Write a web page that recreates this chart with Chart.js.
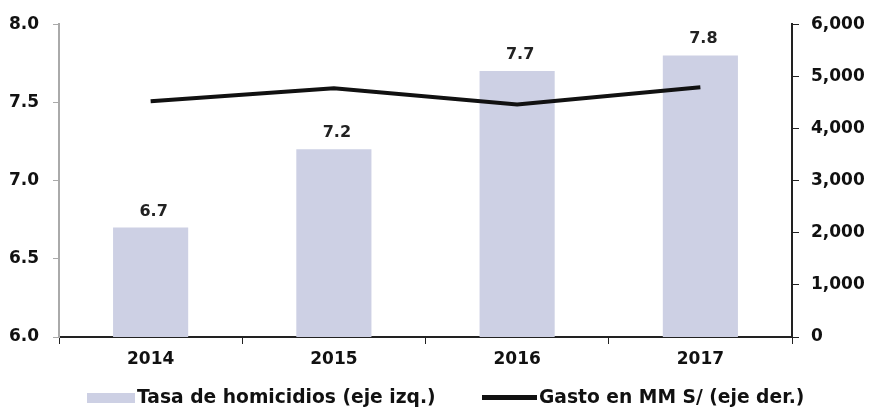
<!DOCTYPE html>
<html>
<head>
<meta charset="utf-8">
<script src="https://cdn.jsdelivr.net/npm/chart.js@4"></script>
<style>
  html, body { margin: 0; padding: 0; background: #fff; }
  #wrap { position: relative; width: 871px; height: 409px; }
  #legend { position: absolute; left: 0; top: 386px; width: 871px; height: 22px;
            font: bold 18.7px 'DejaVu Sans', sans-serif; color: #111; }
  .item { position: absolute; top: 0; white-space: nowrap; line-height: 22px; }
  .sw { display: inline-block; vertical-align: middle; margin-right: 2px; }
</style>
</head>
<body>
<div id="wrap">
  <canvas id="chart" width="871" height="409"></canvas>
  <div id="legend"></div>
</div>
<script>
const years = ["2014", "2015", "2016", "2017"];
const tasaHomicidios = [6.7, 7.2, 7.7, 7.8];
const gastoMM = [4520, 4770, 4460, 4790];
const leftTicks = [6.0, 6.5, 7.0, 7.5, 8.0];
const rightTicks = [0, 1000, 2000, 3000, 4000, 5000, 6000];

const barColor = "#cdd0e4";
const fontFam = "'DejaVu Sans', sans-serif";
const tickFont = { family: fontFam, size: 17, weight: "bold" };

// value labels above each bar
const barLabels = {
  id: "barLabels",
  afterDatasetsDraw(chart) {
    const ctx = chart.ctx;
    const meta = chart.getDatasetMeta(1);
    ctx.save();
    ctx.font = "bold 16px " + fontFam;
    ctx.fillStyle = "#222";
    ctx.textAlign = "center";
    ctx.textBaseline = "alphabetic";
    meta.data.forEach((bar, i) => {
      ctx.fillText(tasaHomicidios[i].toFixed(1), bar.x + 3, bar.y - 12);
    });
    ctx.restore();
  }
};

const chart = new Chart(document.getElementById("chart"), {
  data: {
    labels: years,
    datasets: [
      {
        type: "line",
        label: "Gasto en MM S/ (eje der.)",
        data: gastoMM,
        yAxisID: "y1",
        borderColor: "#111",
        borderWidth: 4,
        pointRadius: 0,
        tension: 0,
        order: 0
      },
      {
        type: "bar",
        label: "Tasa de homicidios (eje izq.)",
        data: tasaHomicidios,
        yAxisID: "y",
        backgroundColor: barColor,
        categoryPercentage: 0.41,
        barPercentage: 1.0,
        order: 1
      }
    ]
  },
  options: {
    responsive: false,
    animation: false,
    layout: { padding: { top: 21, bottom: 42 } },
    plugins: {
      tooltip: { enabled: false },
      legend: { display: false }
    },
    scales: {
      x: {
        afterFit: s => { s.height = 30; },
        grid: { drawOnChartArea: false, color: "#222", tickLength: 7 },
        border: { color: "#222", width: 2 },
        ticks: { color: "#111", font: tickFont, padding: 5 }
      },
      y: {
        position: "left",
        min: 6, max: 8,
        afterBuildTicks: s => { s.ticks = leftTicks.map(v => ({ value: v })); },
        afterFit: s => { s.width = 59; },
        grid: { drawOnChartArea: false, color: "#aaa", tickLength: 6 },
        border: { color: "#aaa", width: 2 },
        ticks: { color: "#111", font: tickFont, padding: 14, callback: v => Number(v).toFixed(1) }
      },
      y1: {
        position: "right",
        min: 0, max: 6000,
        afterBuildTicks: s => { s.ticks = rightTicks.map(v => ({ value: v })); },
        afterFit: s => { s.width = 79; },
        grid: { drawOnChartArea: false, color: "#222", tickLength: 7 },
        border: { color: "#222", width: 2 },
        ticks: { color: "#111", font: tickFont, padding: 12, callback: v => Number(v).toLocaleString("en-US") }
      }
    }
  },
  plugins: [barLabels]
});

// legend built from the chart's datasets
const legendItems = [
  { ds: chart.data.datasets[1], left: 87, w: 48, h: 10 },
  { ds: chart.data.datasets[0], left: 482, w: 55, h: 5 }
];
const legend = document.getElementById("legend");
legendItems.forEach(it => {
  const div = document.createElement("div");
  div.className = "item";
  div.style.left = it.left + "px";
  const sw = document.createElement("span");
  sw.className = "sw";
  sw.style.width = it.w + "px";
  sw.style.height = it.h + "px";
  sw.style.background = it.ds.type === "bar" ? it.ds.backgroundColor : it.ds.borderColor;
  div.appendChild(sw);
  div.appendChild(document.createTextNode(it.ds.label));
  legend.appendChild(div);
});
</script>
</body>
</html>
